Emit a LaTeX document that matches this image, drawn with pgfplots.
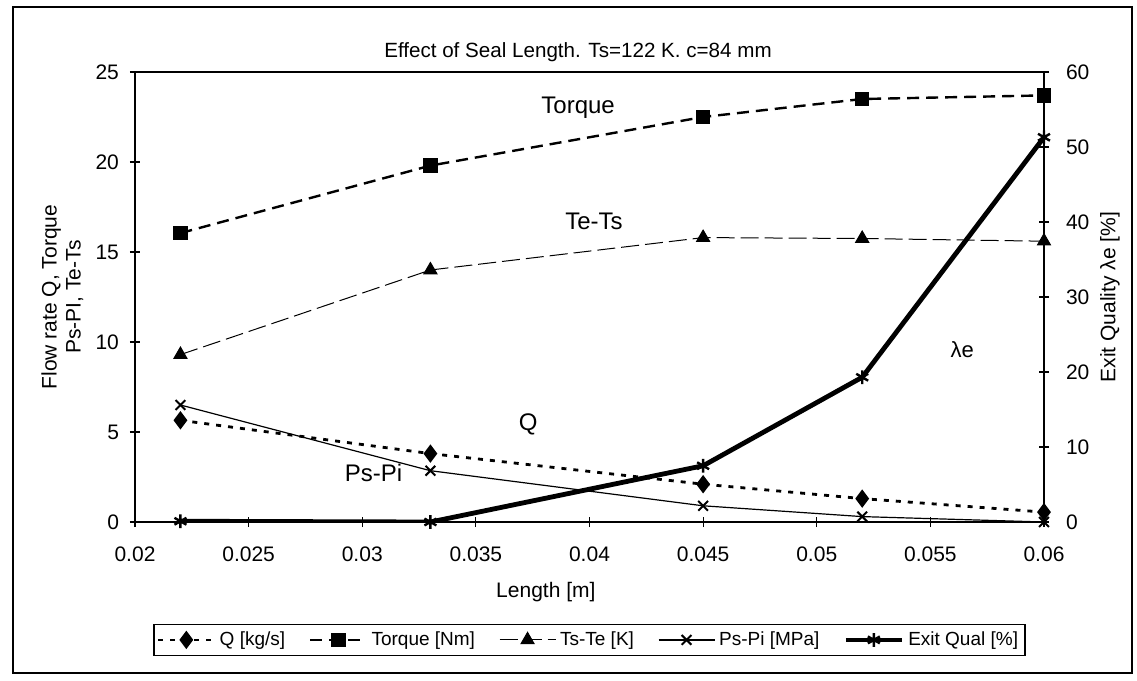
\documentclass[border=0pt]{standalone}
\usepackage{fontspec}
\setmainfont{Liberation Sans}
\usepackage{pgfplots}
\usepackage{pgfplotstable}
\pgfplotsset{compat=1.18}

% x positions are seal lengths in m
\pgfplotstableread{
len    Q     torque  tets  pspi  qual
0.022  5.65  16.05   9.3   6.5   0.1
0.033  3.8   19.8    14.0  2.85  0.0
0.045  2.1   22.5    15.8  0.9   7.5
0.052  1.3   23.5    15.75 0.3   19.3
0.060  0.55  23.7    15.6  0.0   51.3
}\sealdata

\pgfplotsset{
  every axis/.append style={
    scale only axis, width=454.5pt, height=225pt,
    xmin=0.02, xmax=0.06,
    axis line style={line width=0.7pt},
    major tick length=5pt, tick align=center,
    tick style={black, line width=0.6pt},
    /pgf/number format/assume math mode=true,
    tick label style={font=\fontsize{10.5}{12}\selectfont},
    label style={font=\fontsize{10.5}{12}\selectfont},
    mark size=3pt,
  },
  qstyle/.style={black, line width=1.4pt, dash pattern=on 2.5pt off 3.5pt, mark=diamond*, mark options={solid, scale=1.15}},
  tqstyle/.style={black, line width=1.2pt, dash pattern=on 6pt off 3.5pt, mark=square*, mark options={solid}},
  testyle/.style={black, line width=0.5pt, dash pattern=on 9pt off 3pt, mark=triangle*, mark options={solid, scale=1.25}},
  psstyle/.style={black, line width=0.6pt, mark=x, mark options={solid, line width=1pt, scale=1.15}},
  eqstyle/.style={black, line width=2.4pt, mark=asterisk, mark options={solid, line width=1.2pt, scale=1.15}},
}

\begin{document}
\begin{tikzpicture}[font=\fontsize{9}{11}\selectfont]
\useasboundingbox (-67.5pt,-79.5pt) rectangle (501pt,261pt);
\draw[line width=0.6pt] (-61pt,-75.5pt) rectangle (498.5pt,257.5pt);

\begin{axis}[
    ymin=0, ymax=25,
    scaled x ticks=false,
    xtick={0.02,0.025,0.03,0.035,0.04,0.045,0.05,0.055,0.06},
    xticklabels={0.02,0.025,0.03,0.035,0.04,0.045,0.05,0.055,0.06},
    ytick={0,5,10,15,20,25},
    xtick pos=bottom, ytick pos=left,
    xticklabel style={yshift=-6.5pt},
    yticklabel style={xshift=-2pt},
    xlabel={Length [m]},
    xlabel style={at={(axis description cs:0.452,-0.155)}, anchor=center},
    ylabel={Flow rate Q, Torque\\Ps-PI, Te-Ts},
    ylabel style={align=center, at={(axis description cs:-0.08,0.5)}, anchor=center},
]
\addplot[qstyle] table[x=len, y=Q] {\sealdata};
\addplot[tqstyle] table[x=len, y=torque] {\sealdata};
\addplot[testyle] table[x=len, y=tets] {\sealdata};
\addplot[psstyle] table[x=len, y=pspi] {\sealdata};

\node at (axis cs:0.0395,23.0) {\fontsize{12}{14}\selectfont Torque};
\node at (axis cs:0.0402,16.7) {\fontsize{12}{14}\selectfont Te-Ts};
\node at (axis cs:0.0373,5.4) {\fontsize{12}{14}\selectfont Q};
\node at (axis cs:0.0305,2.7) {\fontsize{12}{14}\selectfont Ps-Pi};
\node at (axis cs:0.0564,9.6) {\fontsize{11}{13}\selectfont λe};
\end{axis}

\begin{axis}[
    ymin=0, ymax=60,
    ytick={0,10,20,30,40,50,60},
    axis y line*=right, axis x line=none,
    yticklabel style={xshift=5pt},
    ylabel={Exit Quality λe [\%]},
    ylabel style={at={(axis description cs:1.0726,0.5)}, anchor=center},
    legend columns=5,
    legend style={at={(axis description cs:0.5,-0.262)}, anchor=center,
      draw=black, line width=0.6pt, inner sep=1.5pt,
      /tikz/every even column/.append style={column sep=10pt},
      font=\fontsize{9.5}{11}\selectfont},
    legend image code/.code={%
      \draw[mark repeat=2, mark phase=2, #1] plot coordinates {(0pt,0pt) (14pt,0pt) (28pt,0pt)};},
]
\addlegendimage{qstyle}
\addlegendentry{Q [kg/s]}
\addlegendimage{tqstyle}
\addlegendentry{Torque [Nm]}
\addlegendimage{testyle}
\addlegendentry{Ts-Te [K]}
\addlegendimage{psstyle}
\addlegendentry{Ps-Pi [MPa]}
\addplot[eqstyle] table[x=len, y=qual] {\sealdata};
\addlegendentry{Exit Qual [\%]}
\end{axis}

\node at (221.5pt,235pt) {\fontsize{10.3}{12}\selectfont Effect of Seal Length. Ts=122 K. c=84 mm};
\end{tikzpicture}
\end{document}
